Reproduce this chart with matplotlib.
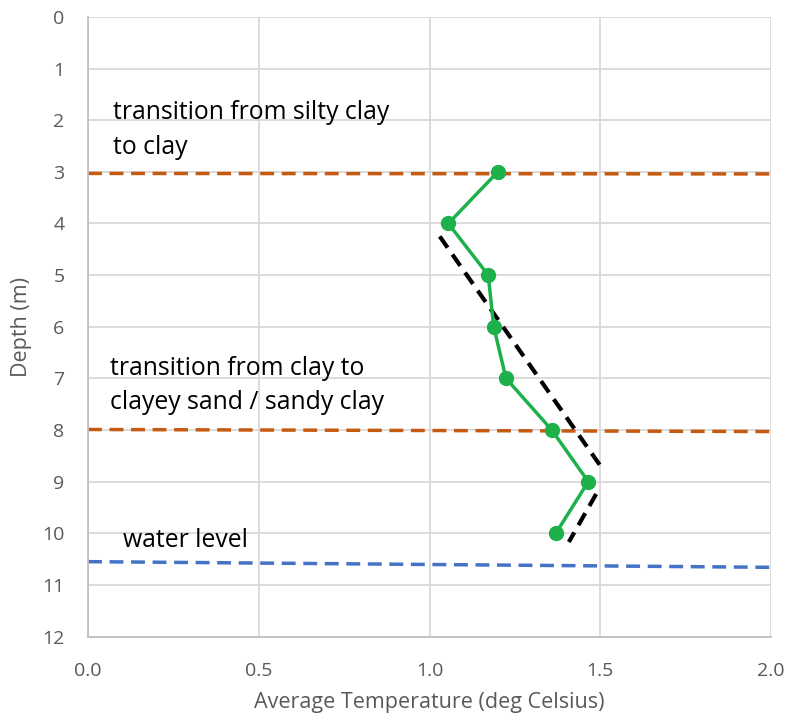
import matplotlib
matplotlib.use("Agg")
import matplotlib.pyplot as plt

plt.rcParams['font.family'] = ['Open Sans', 'DejaVu Sans']

# measured points (depth in m, temperature in deg C)
depth = [3, 4, 5, 6, 7, 8, 9, 10]
temperature = [1.20, 1.055, 1.172, 1.188, 1.224, 1.358, 1.465, 1.370]

# hand drawn trend lines
trend1_x = [1.03, 1.50]
trend1_y = [4.25, 8.69]
trend2_x = [1.488, 1.408]
trend2_y = [9.24, 10.17]

# horizontal markers (x ends, depths)
line_x = [0.0, 2.0]
silty_y = [3.03, 3.04]
sand_y = [7.99, 8.03]
water_y = [10.55, 10.66]

labels = ["transition from silty clay\nto clay",
          "transition from clay to\nclayey sand / sandy clay",
          "water level"]
label_x = [0.073, 0.064, 0.102]
label_y = [2.19, 7.14, 10.14]

grey = '#595959'

fig = plt.figure(figsize=(7.89, 7.2), dpi=100)
ax = fig.add_axes([88/789, 1 - 636.5/720, 683/789, 619.5/720])

ax.plot(line_x, silty_y, '--', color='#C55A11', lw=2.5, dashes=(4, 2.2))
ax.plot(line_x, sand_y, '--', color='#C55A11', lw=2.5, dashes=(4, 2.2))
ax.plot(line_x, water_y, '--', color='#4472C4', lw=2.5, dashes=(4, 2.2))

ax.plot(trend1_x, trend1_y, '--', color='black', lw=3, dashes=(3.3, 2))
ax.plot(trend2_x, trend2_y, '--', color='black', lw=3, dashes=(3.3, 2))

ax.plot(temperature, depth, '-o', color='#1DB04B', lw=2.5, ms=10, zorder=5)

for t, x, y in zip(labels, label_x, label_y):
    ax.text(x, y, t, fontsize=17.8, color='black', va='center', ha='left',
            linespacing=1.5)

ax.set_xlim(0, 2)
ax.set_ylim(12, 0)
ax.set_xticks([0, 0.5, 1.0, 1.5, 2.0])
ax.set_xticklabels(['0.0', '0.5', '1.0', '1.5', '2.0'])
ax.set_yticks(range(0, 13))

ax.grid(True, color='#D9D9D9', lw=1.3)
ax.set_axisbelow(True)
for s in ['top', 'right']:
    ax.spines[s].set_visible(False)
for s in ['left', 'bottom']:
    ax.spines[s].set_color('#BFBFBF')
    ax.spines[s].set_linewidth(1.3)

ax.tick_params(length=0, labelsize=14, colors=grey)
ax.tick_params(axis='x', pad=18)
ax.tick_params(axis='y', pad=17)

ax.set_xlabel("Average Temperature (deg Celsius)", fontsize=15.5, color=grey,
              labelpad=9)
ax.set_ylabel("Depth (m)", fontsize=15.5, color=grey, labelpad=7)

fig.savefig("out.png", dpi=100)
